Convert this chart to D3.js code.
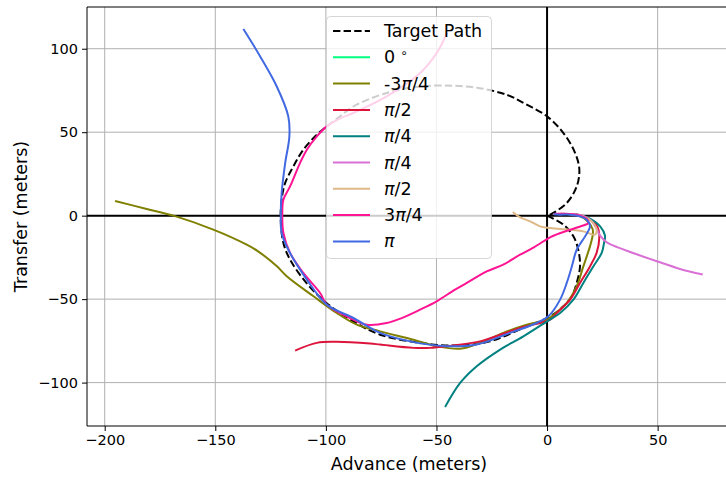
<!DOCTYPE html>
<html>
<head>
<meta charset="utf-8">
<script src="https://cdn.jsdelivr.net/npm/d3@7"></script>
<style>
  html, body { margin: 0; padding: 0; background: #fff; }
  svg { display: block; font-family: "DejaVu Sans", sans-serif; }
</style>
</head>
<body>
<svg id="chart" width="726" height="480"></svg>
<script>
// Tick values shown on each axis
const xTicks = [-200, -150, -100, -50, 0, 50];
const yTicks = [-100, -50, 0, 50, 100];

// Desired turning-circle path (advance, transfer) in meters
const targetPath = [
  [0,0],[7.4,-5.4],[11.9,-12.4],[14.1,-20.4],[14.9,-30.4],[13.4,-40.3],[11.2,-48.3],[7.4,-54.3],
  [1.4,-60.3],[-10.7,-67.2],[-25.8,-75.3],[-40.8,-77.8],[-57.4,-76.2],[-75.5,-71.3],
  [-88,-63],[-100,-52],[-109,-40],[-116.2,-26.3],[-119.2,-16.4],[-120.4,-2.4],[-120,9.6],
  [-118.4,19.6],[-114.7,29.5],[-110.2,39.5],[-104.1,48.5],[-99.6,53.5],[-94,59],[-87.6,65.4],
  [-72.5,73.5],[-57.4,77.4],[-42.4,77.8],[-31,76.5],[-18,72.3],[-9.2,66.5],[0,59.5],
  [7.4,49.5],[12.7,37.5],[14.6,27.5],[13.4,17.5],[8.9,7.6],[1.4,0.6],[0,0]
];

// Simulated trajectories for each heading offset
const run0 = [];
const runM3Q = [
  [3,1],[8,1],[14,0],[18,-3],[20.6,-8],[20.6,-12],[19.4,-18.4],[16.4,-30.4],[13.4,-42.3],
  [8.9,-52.3],[2.8,-59.5],[0,-62.3],[-9.2,-65.3],[-19.8,-70.2],[-30.3,-76.2],[-39.3,-79.7],
  [-49.9,-78.2],[-60.4,-74.3],[-75.5,-69.3],[-86,-65.3],[-95.1,-58.3],[-105.6,-48.3],
  [-117.7,-36.3],[-122,-30.5],[-130.5,-21.5],[-135.8,-17.4],[-150.9,-8.4],[-168.9,0],[-181,4],[-195.3,8.8]
];
const runHalfA = [
  [3,1],[8,1],[14,0.5],[19,-2],[22.5,-6],[23.6,-12],[22.4,-22.3],[19.4,-30.4],[14.9,-40.3],
  [10.4,-50.3],[4.4,-58.3],[1.4,-62.3],[-12.2,-67.2],[-30.3,-75.3],[-45.3,-78.2],[-52.9,-79.2],
  [-60.4,-79.2],[-75.5,-77.2],[-80,-76.6],[-95.1,-75.6],[-104.1,-76.2],[-113.9,-80.8]
];
const runQuarterA = [
  [3,1],[8,1],[14,0.5],[19,-1.5],[24,-6.4],[26.2,-12],[25.8,-16],[24.7,-22.3],[20.9,-30.4],
  [16.4,-40.3],[11.9,-50.3],[5.9,-58.3],[0,-63.3],[-10.7,-72.3],[-21.2,-80.2],[-31.8,-90.2],
  [-39.3,-100.2],[-46.1,-114.6]
];
const runQuarterB = [
  [3,1],[10,1],[16,0],[20,-3],[22,-7],[24,-12],[27,-16],[32,-19],[37,-21.5],[49.6,-27.3],
  [60.1,-31.9],[70.4,-35.3]
];
const runHalfB = [
  [3,1],[10,1],[16.4,-0.4],[20.2,-3.4],[22.4,-8.4],[21.7,-11.4],[16.4,-9.4],[10.4,-8.4],
  [5.9,-8],[1.4,-7.4],[-3.2,-6.4],[-7.7,-3.4],[-12.2,-1],[-15.5,2.2]
];
const run3Q = [
  [3,1],[10,1],[15,0],[18,-2],[18.7,-4.4],[15,-6.5],[8,-9.5],[2,-12.5],[0,-14],[-6,-19],
  [-12.2,-23.4],[-19.8,-29.3],[-27.3,-33.4],[-36.3,-40.3],[-41.6,-44.3],[-49.9,-51.3],
  [-57.4,-56.3],[-66,-61.5],[-72.5,-64.3],[-81.5,-65.3],[-87.6,-62.3],[-99.6,-53.3],
  [-102.6,-46.3],[-110.2,-34.3],[-116.2,-22.3],[-119.2,-10.4],[-119.7,1.6],[-119.2,9.6],
  [-116.2,17.5],[-111.7,31.5],[-108.6,39.5],[-104.1,47.5],[-99.6,53.5],[-94,58],[-87.6,61.5],
  [-72.5,71.4],[-57.4,85.4],[-49.9,97.4],[-45.3,109.4]
];
const runPi = [
  [3,0.8],[5.9,0.6],[10.4,0.6],[14.9,-0.4],[17.9,-2.4],[19.4,-6.4],[17.2,-12.4],[13.4,-20.4],
  [11.2,-30.4],[8.9,-40.3],[5.9,-50.3],[0.6,-60.3],[-4.7,-64.3],[-16.7,-70.2],[-31.8,-77.2],
  [-45.4,-78.2],[-61.9,-75.3],[-75.5,-70.2],[-87.6,-61.3],[-99.6,-53.3],[-108.6,-38.3],
  [-117,-20.4],[-120,-10.4],[-120.4,-0.4],[-120,13.6],[-118.4,31.5],[-116.5,47.5],[-117,59.5],
  [-122.2,77.4],[-129.7,95.4],[-137.3,111.8]
];

// Legend labels: plain prefix, italic pi flag, suffix
const series = [
  { label: ["0", false, ""], deg: true, color: "#00FF7F", data: run0 },
  { label: ["-3", true, "/4"], color: "#808000", data: runM3Q },
  { label: ["", true, "/2"], color: "#DC143C", data: runHalfA },
  { label: ["", true, "/4"], color: "#008080", data: runQuarterA },
  { label: ["", true, "/4"], color: "#DA70D6", data: runQuarterB },
  { label: ["", true, "/2"], color: "#DEB887", data: runHalfB },
  { label: ["3", true, "/4"], color: "#FF1493", data: run3Q },
  { label: ["", true, ""], color: "#4169E1", data: runPi }
];

const svg = d3.select("#chart");
const pLeft = 87, pRight = 726, pTop = 7, pBottom = 426;
const lw = 2, dash = "7.4,3.2";

const x = d3.scaleLinear().domain([-208, 80.9]).range([pLeft, pRight]);
const y = d3.scaleLinear().domain([-126, 125]).range([pBottom, pTop]);

const defs = svg.append("defs");
defs.append("clipPath").attr("id", "plotClip")
  .append("rect").attr("x", pLeft).attr("y", pTop).attr("width", pRight - pLeft).attr("height", pBottom - pTop);

// Grid
const grid = svg.append("g");
grid.selectAll(".gx").data(xTicks).join("line")
  .attr("x1", d => x(d)).attr("x2", d => x(d)).attr("y1", pTop).attr("y2", pBottom)
  .attr("stroke", "#b0b0b0").attr("stroke-width", 1);
grid.selectAll(".gy").data(yTicks).join("line")
  .attr("y1", d => y(d)).attr("y2", d => y(d)).attr("x1", pLeft).attr("x2", pRight)
  .attr("stroke", "#b0b0b0").attr("stroke-width", 1);

// Zero reference lines
svg.append("line").attr("x1", pLeft).attr("x2", pRight).attr("y1", y(0)).attr("y2", y(0))
  .attr("stroke", "#000").attr("stroke-width", 2);
svg.append("line").attr("x1", x(0)).attr("x2", x(0)).attr("y1", pTop).attr("y2", pBottom)
  .attr("stroke", "#000").attr("stroke-width", 2);

const line = d3.line().x(d => x(d[0])).y(d => y(d[1])).curve(d3.curveCatmullRom.alpha(0.5));
const plot = svg.append("g").attr("clip-path", "url(#plotClip)");

plot.append("path").datum(targetPath).attr("d", line)
  .attr("fill", "none").attr("stroke", "#000").attr("stroke-width", lw)
  .attr("stroke-dasharray", dash);

series.forEach(s => {
  if (!s.data.length) return;
  plot.append("path").datum(s.data).attr("d", line)
    .attr("fill", "none").attr("stroke", s.color).attr("stroke-width", lw)
    .attr("stroke-linejoin", "round").attr("stroke-linecap", "butt");
});

// Axes
const fmt = d => d < 0 ? "\u2212" + Math.abs(d) : d;
const xAxis = svg.append("g").attr("transform", `translate(0,${pBottom})`)
  .call(d3.axisBottom(x).tickValues(xTicks).tickSize(5).tickPadding(4).tickFormat(fmt));
const yAxis = svg.append("g").attr("transform", `translate(${pLeft},0)`)
  .call(d3.axisLeft(y).tickValues(yTicks).tickSize(5).tickPadding(4).tickFormat(fmt));
[xAxis, yAxis].forEach(a => {
  a.select(".domain").remove();
  a.selectAll("text").attr("font-size", 14.5).attr("font-family", "DejaVu Sans").attr("fill", "#000");
  a.selectAll("line").attr("stroke", "#000").attr("stroke-width", 1);
});

// Spines (left, top, bottom)
svg.append("path")
  .attr("d", `M${pRight},${pTop}H${pLeft}V${pBottom}H${pRight}`)
  .attr("fill", "none").attr("stroke", "#000").attr("stroke-width", 1);

// Axis titles
svg.append("text").attr("x", 409).attr("y", 470)
  .attr("text-anchor", "middle").attr("font-size", 17.5).text("Advance (meters)");
svg.append("text").attr("transform", `translate(27,${(pTop + pBottom) / 2}) rotate(-90)`)
  .attr("text-anchor", "middle").attr("font-size", 17.5).text("Transfer (meters)");

// Legend
const lg = svg.append("g");
lg.append("rect").attr("x", 326.5).attr("y", 16.5).attr("width", 165).attr("height", 242)
  .attr("rx", 4).attr("fill", "#fff").attr("fill-opacity", 0.8)
  .attr("stroke", "#cccccc").attr("stroke-opacity", 0.8).attr("stroke-width", 1);

const rowY = i => 31 + i * 26.3;
const entries = [{ target: true }].concat(series);
entries.forEach((e, i) => {
  const yy = rowY(i);
  const h = lg.append("line").attr("x1", 333).attr("x2", 370).attr("y1", yy).attr("y2", yy)
    .attr("stroke-width", lw);
  if (e.target) h.attr("stroke", "#000").attr("stroke-dasharray", dash);
  else h.attr("stroke", e.color);
  const t = lg.append("text").attr("x", 384).attr("y", yy + 6).attr("font-size", 17.5);
  if (e.target) { t.text("Target Path"); return; }
  const [pre, pi, post] = e.label;
  if (pre) t.append("tspan").text(pre);
  if (e.deg) t.append("tspan").attr("dx", 5).attr("dy", -6).attr("font-size", 12).text("\u2218");
  if (pi) t.append("tspan").attr("font-style", "italic").text("\u03c0");
  if (post) t.append("tspan").text(post);
});
</script>
</body>
</html>
